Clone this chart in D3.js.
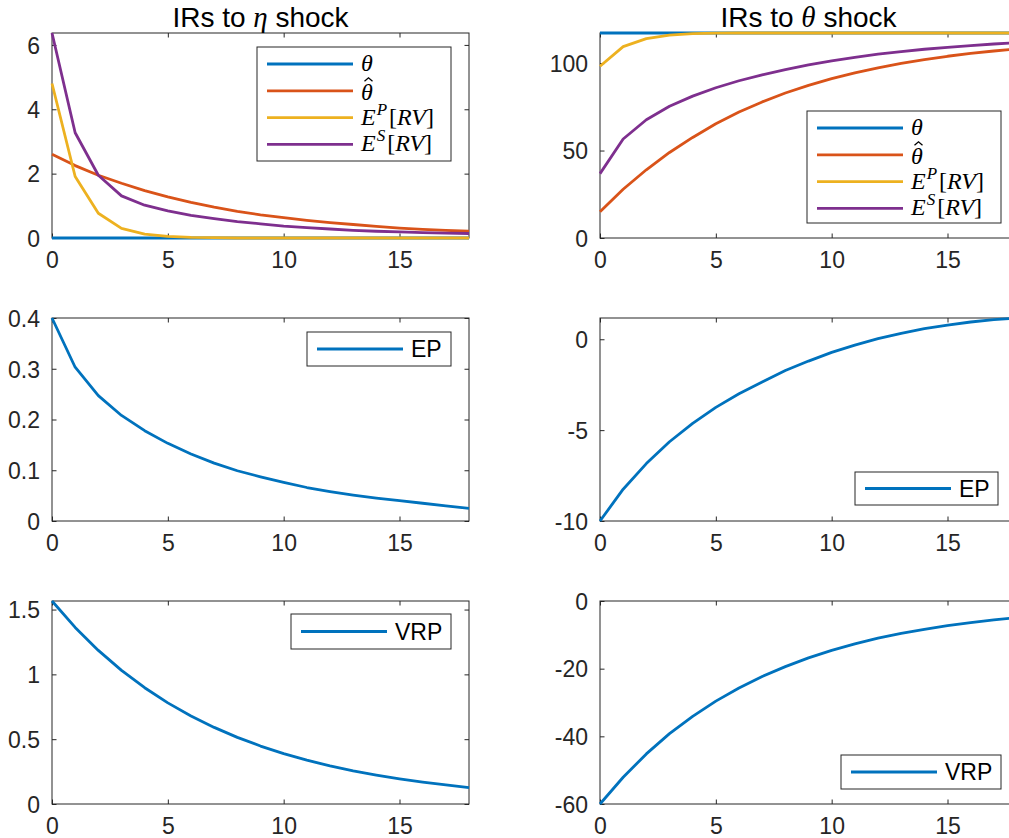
<!DOCTYPE html>
<html>
<head>
<meta charset="utf-8">
<script src="https://cdn.jsdelivr.net/npm/d3@7"></script>
<style>
  body { margin: 0; background: #fff; overflow: hidden; }
  svg { display: block; }
</style>
</head>
<body>
<svg id="chart" width="1009" height="838"></svg>
<script>
// Horizon (periods after the shock)
const horizon = [0, 1, 2, 3, 4, 5, 6, 7, 8, 9, 10, 11, 12, 13, 14, 15, 16, 17, 18];

// Responses to an eta shock
const etaTheta    = [0, 0, 0, 0, 0, 0, 0, 0, 0, 0, 0, 0, 0, 0, 0, 0, 0, 0, 0];
const etaThetaHat = [2.60, 2.25, 1.95, 1.70, 1.47, 1.28, 1.11, 0.96, 0.83, 0.72, 0.63, 0.55, 0.48, 0.42, 0.36, 0.31, 0.27, 0.24, 0.21];
const etaEP_RV    = [4.80, 1.91, 0.77, 0.30, 0.12, 0.05, 0.02, 0.01, 0, 0, 0, 0, 0, 0, 0, 0, 0, 0, 0];
const etaES_RV    = [6.37, 3.27, 1.95, 1.31, 1.02, 0.84, 0.70, 0.60, 0.51, 0.44, 0.37, 0.32, 0.28, 0.24, 0.21, 0.19, 0.17, 0.15, 0.14];
const etaEP       = [0.400, 0.303, 0.247, 0.208, 0.178, 0.153, 0.132, 0.114, 0.099, 0.087, 0.076, 0.066, 0.058, 0.051, 0.045, 0.040, 0.035, 0.030, 0.025];
const etaVRP      = [1.566, 1.362, 1.185, 1.031, 0.897, 0.780, 0.679, 0.591, 0.514, 0.447, 0.389, 0.338, 0.294, 0.256, 0.223, 0.194, 0.169, 0.147, 0.126];

// Responses to a theta shock
const thTheta     = [117.2, 117.2, 117.2, 117.2, 117.2, 117.2, 117.2, 117.2, 117.2, 117.2, 117.2, 117.2, 117.2, 117.2, 117.2, 117.2, 117.2, 117.2, 117.2];
const thThetaHat  = [15.0, 27.9, 39.0, 48.9, 57.5, 65.3, 72.0, 77.8, 82.9, 87.3, 91.1, 94.4, 97.3, 99.8, 102.0, 103.9, 105.5, 106.9, 108.1];
const thEP_RV     = [98.2, 109.4, 114.0, 116.0, 116.8, 117.1, 117.2, 117.2, 117.2, 117.2, 117.2, 117.2, 117.2, 117.2, 117.2, 117.2, 117.2, 117.2, 117.2];
const thES_RV     = [36.8, 56.6, 67.6, 75.3, 81.1, 85.9, 89.9, 93.3, 96.3, 99.0, 101.3, 103.3, 105.1, 106.6, 107.9, 109.0, 110.0, 110.9, 111.7];
const thEP        = [-10.0, -8.25, -6.84, -5.64, -4.63, -3.75, -3.00, -2.35, -1.72, -1.20, -0.72, -0.32, 0.03, 0.33, 0.58, 0.78, 0.95, 1.08, 1.17];
const thVRP       = [-60.0, -52.1, -45.2, -39.2, -34.1, -29.6, -25.7, -22.3, -19.4, -16.8, -14.6, -12.7, -11.0, -9.6, -8.4, -7.3, -6.4, -5.6, -4.9];

// Axis settings
const xTicks = [0, 5, 10, 15];
const titles = [["IRs to ", "η", " shock"], ["IRs to ", "θ", " shock"]];

// Series labels (math rendered as segments)
const labelTheta    = [{ t: "θ", it: true }];
const labelThetaHat = [{ t: "θ", it: true, hat: true }];
const labelEP_RV    = [{ t: "E", it: true }, { t: "P", it: true, sup: true }, { t: "[", it: false }, { t: "RV", it: true }, { t: "]", it: false }];
const labelES_RV    = [{ t: "E", it: true }, { t: "S", it: true, sup: true }, { t: "[", it: false }, { t: "RV", it: true }, { t: "]", it: false }];

const C_BLUE = "#0072BD", C_ORANGE = "#D95319", C_YELLOW = "#EDB120", C_PURPLE = "#7E2F8E";
const AXIS_COLOR = "#262626";
const SANS = "'Liberation Sans', Arial, Helvetica, sans-serif";
const SERIF = "'Liberation Serif', 'Times New Roman', serif";

const colX = [[52, 469], [600, 1017]];
const rowY = [[33, 238], [318, 521], [601, 804]];

const panels = [
  { col: 0, row: 0, ydom: [0, 6.37], yticks: [0, 2, 4, 6],
    series: [
      { v: etaTheta, c: C_BLUE, label: labelTheta },
      { v: etaThetaHat, c: C_ORANGE, label: labelThetaHat },
      { v: etaEP_RV, c: C_YELLOW, label: labelEP_RV },
      { v: etaES_RV, c: C_PURPLE, label: labelES_RV }],
    legend: { x: 257, y: 47, w: 194, h: 114 } },
  { col: 1, row: 0, ydom: [0, 117.2], yticks: [0, 50, 100],
    series: [
      { v: thTheta, c: C_BLUE, label: labelTheta },
      { v: thThetaHat, c: C_ORANGE, label: labelThetaHat },
      { v: thEP_RV, c: C_YELLOW, label: labelEP_RV },
      { v: thES_RV, c: C_PURPLE, label: labelES_RV }],
    legend: { x: 807, y: 111, w: 194, h: 112 } },
  { col: 0, row: 1, ydom: [0, 0.4], yticks: [0, 0.1, 0.2, 0.3, 0.4],
    series: [{ v: etaEP, c: C_BLUE, text: "EP" }],
    legend: { x: 307, y: 332, w: 144, h: 34 } },
  { col: 1, row: 1, ydom: [-10, 1.17], yticks: [-10, -5, 0],
    series: [{ v: thEP, c: C_BLUE, text: "EP" }],
    legend: { x: 855, y: 472, w: 143, h: 33 } },
  { col: 0, row: 2, ydom: [0, 1.566], yticks: [0, 0.5, 1, 1.5],
    series: [{ v: etaVRP, c: C_BLUE, text: "VRP" }],
    legend: { x: 291, y: 614, w: 160, h: 35 } },
  { col: 1, row: 2, ydom: [-60, 0], yticks: [-60, -40, -20, 0],
    series: [{ v: thVRP, c: C_BLUE, text: "VRP" }],
    legend: { x: 841, y: 755, w: 160, h: 34 } }
];

const svg = d3.select("#chart");
const TICK = 4.5;

// Renders a label such as E^P[RV]; a hat accent is stroked over a segment flagged with `hat`
function drawMath(g, x, y, segs) {
  const hasHat = segs.some(s => s.hat);
  const base = hasHat ? y + 2 : y;
  const t = g.append("text").attr("x", x).attr("y", base)
    .attr("font-family", SERIF).attr("font-size", 24).attr("fill", "#000");
  let hatTarget = null;
  let raised = false;
  segs.forEach(s => {
    const ts = t.append("tspan").text(s.t)
      .attr("font-style", s.it ? "italic" : "normal");
    if (s.sup) { ts.attr("font-size", 17).attr("dy", -10).attr("dx", 1); raised = true; }
    else if (raised) { ts.attr("dy", 10).attr("dx", 2); raised = false; }
    if (s.hat) hatTarget = ts;
  });
  if (hatTarget) {
    const bb = hatTarget.node().getBBox();
    const cx = bb.x + bb.width / 2 + 1.5;
    const top = base - 22;
    g.append("path")
      .attr("d", `M${cx - 4},${top + 3.5}L${cx},${top}L${cx + 4},${top + 3.5}`)
      .attr("fill", "none").attr("stroke", "#000").attr("stroke-width", 1.3)
      .attr("stroke-linejoin", "miter");
  }
}

panels.forEach(p => {
  const [x0, x1] = colX[p.col];
  const [y0, y1] = rowY[p.row];
  const x = d3.scaleLinear().domain([0, 18]).range([x0, x1]);
  const y = d3.scaleLinear().domain(p.ydom).range([y1, y0]);
  const g = svg.append("g");

  // axes box
  g.append("rect").attr("x", x0).attr("y", y0).attr("width", x1 - x0).attr("height", y1 - y0)
    .attr("fill", "none").attr("stroke", AXIS_COLOR).attr("stroke-width", 1);

  // inward ticks on all sides
  const gxb = g.append("g").attr("transform", `translate(0,${y1})`)
    .call(d3.axisBottom(x).tickValues(xTicks).tickSizeInner(-TICK).tickSizeOuter(0).tickPadding(14));
  const gxt = g.append("g").attr("transform", `translate(0,${y0})`)
    .call(d3.axisTop(x).tickValues(xTicks).tickSizeInner(-TICK).tickSizeOuter(0).tickFormat(""));
  const gyl = g.append("g").attr("transform", `translate(${x0},0)`)
    .call(d3.axisLeft(y).tickValues(p.yticks).tickSizeInner(-TICK).tickSizeOuter(0).tickPadding(12)
      .tickFormat(d => String(d)));
  const gyr = g.append("g").attr("transform", `translate(${x1},0)`)
    .call(d3.axisRight(y).tickValues(p.yticks).tickSizeInner(-TICK).tickSizeOuter(0).tickFormat(""));
  [gxb, gxt, gyl, gyr].forEach(a => {
    a.select(".domain").remove();
    a.selectAll(".tick line").attr("stroke", AXIS_COLOR);
    a.selectAll(".tick text").attr("fill", AXIS_COLOR).attr("font-family", SANS).attr("font-size", 23);
  });
  gxb.selectAll(".tick text").attr("dy", "0.71em");
  gyl.selectAll(".tick text").attr("dy", "0.36em");

  // series lines
  const line = d3.line().x((d, i) => x(horizon[i])).y(d => y(d));
  p.series.forEach(s => {
    g.append("path").datum(s.v).attr("d", line)
      .attr("fill", "none").attr("stroke", s.c).attr("stroke-width", 2.8)
      .attr("stroke-linejoin", "round");
  });

  // legend
  const L = p.legend;
  const lg = g.append("g");
  lg.append("rect").attr("x", L.x).attr("y", L.y).attr("width", L.w).attr("height", L.h)
    .attr("fill", "#fff").attr("stroke", AXIS_COLOR).attr("stroke-width", 1);
  const n = p.series.length;
  p.series.forEach((s, i) => {
    const cy = n === 1 ? L.y + L.h / 2 : L.y + 17 + i * 26.8;
    lg.append("line").attr("x1", L.x + 10).attr("x2", L.x + 96)
      .attr("y1", cy).attr("y2", cy).attr("stroke", s.c).attr("stroke-width", 2.8);
    if (s.text) {
      lg.append("text").attr("x", L.x + 104).attr("y", cy + 8)
        .attr("font-family", SANS).attr("font-size", 23).attr("fill", "#000").text(s.text);
    } else {
      drawMath(lg, L.x + 104, cy + 7, s.label);
    }
  });

  // column titles
  if (p.row === 0) {
    const tt = svg.append("text").attr("x", (x0 + x1) / 2).attr("y", 27)
      .attr("text-anchor", "middle").attr("font-family", SANS).attr("font-size", 28).attr("fill", "#000");
    const parts = titles[p.col];
    tt.append("tspan").text(parts[0]);
    tt.append("tspan").text(parts[1]).attr("font-family", SERIF).attr("font-style", "italic").attr("font-size", 29);
    tt.append("tspan").text(parts[2]);
  }
});
</script>
</body>
</html>
